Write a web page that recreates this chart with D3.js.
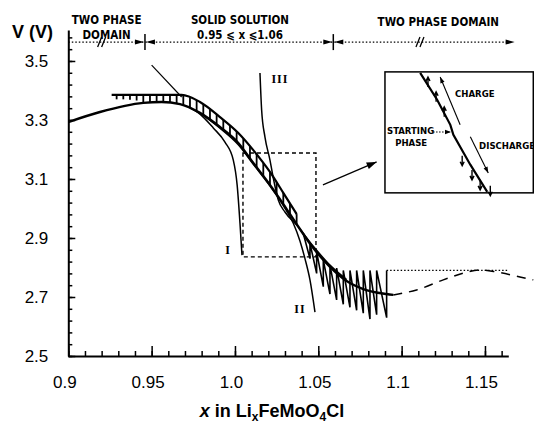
<!DOCTYPE html>
<html>
<head>
<meta charset="utf-8">
<script src="https://cdn.jsdelivr.net/npm/d3@7/dist/d3.min.js"></script>
<style>
  body { margin: 0; background: #fff; }
  text { fill: #000; }
</style>
</head>
<body>
<div id="chart"></div>
<script>
//--------------------------- Data

// equilibrium curve (solid) and its dashed continuation
var mainX = [0.900, 0.919, 0.945, 0.956, 0.967, 0.979, 0.991, 1.002, 1.011, 1.021, 1.029, 1.037, 1.047, 1.057, 1.067, 1.077, 1.091, 1.095];
var mainV = [3.293, 3.327, 3.358, 3.361, 3.354, 3.324, 3.276, 3.222, 3.154, 3.080, 3.015, 2.947, 2.866, 2.802, 2.754, 2.727, 2.710, 2.707];
var dashX = [1.095, 1.109, 1.125, 1.137, 1.147, 1.157, 1.171, 1.179];
var dashV = [2.707, 2.724, 2.758, 2.781, 2.792, 2.785, 2.768, 2.758];

// upper (charge) envelope
var upX = [0.926, 0.968, 0.979, 0.991, 1.002, 1.011, 1.021, 1.029, 1.037];
var upV = [3.385, 3.385, 3.361, 3.310, 3.256, 3.198, 3.124, 3.053, 2.981];

// hatch marks between the envelope and the curve
var hatchX = [0.929, 0.933, 0.937, 0.941, 0.945, 0.949, 0.953, 0.957, 0.961, 0.965, 0.969, 0.973, 0.977, 0.981,
              0.985, 0.989, 0.993, 0.997, 1.001, 1.005, 1.009, 1.013, 1.017, 1.021, 1.025, 1.029, 1.033, 1.037];
var hatchTop = [3.385, 3.385, 3.385, 3.385, 3.385, 3.385, 3.385, 3.385, 3.385, 3.385, 3.383, 3.376, 3.366, 3.353,
                3.336, 3.319, 3.300, 3.281, 3.262, 3.237, 3.211, 3.184, 3.154, 3.124, 3.089, 3.053, 3.017, 2.981];
var hatchBot = [3.370, 3.370, 3.369, 3.366, 3.358, 3.360, 3.361, 3.361, 3.360, 3.357, 3.352, 3.344, 3.331, 3.317,
                3.301, 3.284, 3.267, 3.247, 3.227, 3.201, 3.170, 3.139, 3.110, 3.080, 3.047, 3.015, 2.981, 2.947];

// sawtooth below the curve in the two phase domain
var zigX   = [1.041, 1.045, 1.049, 1.053, 1.057, 1.061, 1.065, 1.069, 1.073, 1.077, 1.081, 1.085, 1.091];
var zigTop = [2.915, 2.882, 2.853, 2.826, 2.808, 2.798, 2.790, 2.790, 2.790, 2.790, 2.790, 2.790, 2.790];
var zigBot = [2.880, 2.830, 2.780, 2.735, 2.710, 2.690, 2.675, 2.665, 2.655, 2.645, 2.625, 2.640, 2.630];

// model curves I, II, III
var curve1X = [0.973, 0.979, 0.987, 0.994, 0.999, 1.0013, 1.003, 1.0042];
var curve1V = [3.341, 3.320, 3.273, 3.225, 3.164, 3.080, 2.951, 2.842];
var curve2X = [0.979, 0.991, 1.002, 1.011, 1.021, 1.029, 1.035, 1.039, 1.042, 1.045, 1.048];
var curve2V = [3.324, 3.272, 3.216, 3.150, 3.076, 3.010, 2.950, 2.890, 2.830, 2.758, 2.649];
var curve3X = [1.015, 1.016, 1.018, 1.021, 1.023, 1.026, 1.030, 1.037, 1.047, 1.057, 1.067];
var curve3V = [3.459, 3.334, 3.242, 3.164, 3.103, 3.029, 2.988, 2.944, 2.872, 2.808, 2.759];

// plateau level, domain limits, zoom box
var plateauV = 2.79;
var phaseLimits = [0.946, 1.059];
var zoomBoxX = [1.0048, 1.0486];
var zoomBoxV = [2.836, 3.188];
var insetX = [1.090, 1.179];
var insetV = [3.053, 3.463];

// inset (in the units of the zoom box)
var insetLineX = [1.0152, 1.0202, 1.0241, 1.0250, 1.0300, 1.0350];
var insetLineV = [3.185, 3.107, 3.034, 3.005, 2.918, 2.839];
var barbUpX = [1.0175, 1.0199, 1.0223];
var barbUpV = [3.150, 3.107, 3.063];
var barbDownX = [1.0276, 1.0305, 1.0329, 1.0359];
var barbDownV = [2.938, 2.897, 2.868, 2.851];

var xTicks = [0.9, 0.95, 1.0, 1.05, 1.1, 1.15];
var xTickLabels = ["0.9", "0.95", "1.0", "1.05", "1.1", "1.15"];
var yTicks = [2.5, 2.7, 2.9, 3.1, 3.3, 3.5];
var yTickLabels = ["2.5", "2.7", "2.9", "3.1", "3.3", "3.5"];

//--------------------------- SVG and scales

var svg = d3.select("#chart")
    .append("svg")
    .attr("width", 534)
    .attr("height", 426);

var x = d3.scaleLinear().domain([0.9, 1.164]).range([68.3, 508.3]);
var y = d3.scaleLinear().domain([2.5, 3.605]).range([356, 30]);

var zip = function (a, b) { return a.map(function (d, i) { return [d, b[i]]; }); };

var smooth = d3.line()
    .x(function (d) { return x(d[0]); })
    .y(function (d) { return y(d[1]); })
    .curve(d3.curveMonotoneX);

var straight = d3.line()
    .x(function (d) { return x(d[0]); })
    .y(function (d) { return y(d[1]); });

var sans = "'Liberation Sans', Arial, sans-serif";
var narrow = "'DejaVu Sans Condensed', 'Liberation Sans Narrow', sans-serif";

//--------------------------- Axes

var minorX = d3.range(0, 27).map(function (i) { return 0.9 + i * 0.01; });
var minorY = d3.range(0, 28).map(function (i) { return 2.5 + i * 0.04; });

svg.append("g")
    .attr("transform", "translate(0,356)")
    .call(d3.axisBottom(x).tickValues(minorX).tickSize(-5).tickSizeOuter(0).tickFormat(""))
    .call(function (g) { g.selectAll("line").attr("stroke-width", 1.5); g.select(".domain").attr("stroke-width", 2); });

svg.append("g")
    .attr("transform", "translate(0,356)")
    .call(d3.axisBottom(x).tickValues(xTicks).tickSize(-10).tickSizeOuter(0).tickPadding(20)
        .tickFormat(function (d, i) { return xTickLabels[i]; }))
    .call(function (g) {
        g.select(".domain").remove();
        g.selectAll("line").attr("stroke-width", 1.5);
        g.selectAll("text").attr("font-family", sans).attr("font-size", 17).attr("dx", -4);
    });

svg.append("g")
    .attr("transform", "translate(68.3,0)")
    .call(d3.axisLeft(y).tickValues(minorY).tickSize(-4).tickSizeOuter(0).tickFormat(""))
    .call(function (g) { g.selectAll("line").attr("stroke-width", 1.5); g.select(".domain").attr("stroke-width", 2); });

svg.append("g")
    .attr("transform", "translate(68.3,0)")
    .call(d3.axisLeft(y).tickValues(yTicks).tickSize(-7).tickSizeOuter(0).tickPadding(20)
        .tickFormat(function (d, i) { return yTickLabels[i]; }))
    .call(function (g) {
        g.select(".domain").remove();
        g.selectAll("line").attr("stroke-width", 1.5);
        g.selectAll("text").attr("font-family", sans).attr("font-size", 17);
    });

svg.append("text")
    .attr("x", 12).attr("y", 38)
    .attr("font-family", sans).attr("font-size", 18).attr("font-weight", "bold")
    .text("V (V)");

var title = svg.append("text")
    .attr("x", 272).attr("y", 417)
    .attr("text-anchor", "middle")
    .attr("font-family", sans).attr("font-size", 18).attr("font-weight", "bold");
title.append("tspan").attr("font-style", "italic").text("x");
title.append("tspan").text(" in Li");
title.append("tspan").attr("font-size", 12).attr("dy", 4).text("x");
title.append("tspan").attr("dy", -4).text("FeMoO");
title.append("tspan").attr("font-size", 12).attr("dy", 4).text("4");
title.append("tspan").attr("dy", -4).text("Cl");

//--------------------------- Domain annotations on top

var topV = 3.564;

svg.append("line")
    .attr("x1", x(0.9)).attr("x2", x(1.166))
    .attr("y1", y(topV)).attr("y2", y(topV))
    .attr("stroke", "#000").attr("stroke-width", 1.2)
    .attr("stroke-dasharray", "1.5,2");

// break marks
[0.920, 1.111].forEach(function (b) {
    [-2, 2].forEach(function (o) {
        svg.append("line")
            .attr("x1", x(b) + o - 2).attr("x2", x(b) + o + 2)
            .attr("y1", y(topV) + 5).attr("y2", y(topV) - 5)
            .attr("stroke", "#000").attr("stroke-width", 1.3);
    });
});

var arrowHead = function (tipX, tipY, dir, len, half) {
    return "M" + tipX + "," + tipY + "L" + (tipX - dir * len) + "," + (tipY - half) +
        "L" + (tipX - dir * len) + "," + (tipY + half) + "Z";
};

phaseLimits.forEach(function (p) {
    var px = x(p), py = y(topV);
    svg.append("line")
        .attr("x1", px).attr("x2", px).attr("y1", py - 8).attr("y2", py + 8)
        .attr("stroke", "#000").attr("stroke-width", 1.5);
    svg.append("path").attr("d", arrowHead(px - 1, py, 1, 9, 2.5)).attr("fill", "#000");
    svg.append("path").attr("d", arrowHead(px + 1, py, -1, 9, 2.5)).attr("fill", "#000");
});
svg.append("path").attr("d", arrowHead(x(1.166) + 3, y(topV), 1, 9, 2.5)).attr("fill", "#000");

var topLabels = [
    { t: "TWO PHASE", x: 0.923, v: 3.56, dy: -19 },
    { t: "DOMAIN", x: 0.923, v: 3.56, dy: -4 },
    { t: "SOLID SOLUTION", x: 1.003, v: 3.56, dy: -19 },
    { t: "0.95 \u2A7D x \u2A7D1.06", x: 1.003, v: 3.56, dy: -4 },
    { t: "TWO PHASE DOMAIN", x: 1.122, v: 3.56, dy: -17 }
];
svg.selectAll("text.top")
    .data(topLabels)
    .enter().append("text")
    .attr("class", "top")
    .attr("x", function (d) { return x(d.x); })
    .attr("y", function (d) { return y(d.v) + d.dy; })
    .attr("text-anchor", "middle")
    .attr("font-family", narrow).attr("font-size", 11.5).attr("font-weight", "bold")
    .text(function (d) { return d.t; });

// pointer from the domain limit to the curve
svg.append("line")
    .attr("x1", x(0.950)).attr("y1", y(3.486))
    .attr("x2", x(0.968)).attr("y2", y(3.378))
    .attr("stroke", "#000").attr("stroke-width", 1.2);

//--------------------------- Curves

svg.append("path")
    .attr("d", smooth(zip(mainX, mainV)))
    .attr("fill", "none").attr("stroke", "#000").attr("stroke-width", 2.4);

svg.append("path")
    .attr("d", smooth(zip(dashX, dashV)))
    .attr("fill", "none").attr("stroke", "#000").attr("stroke-width", 1.5)
    .attr("stroke-dasharray", "9,7");

svg.append("path")
    .attr("d", smooth(zip(upX, upV)))
    .attr("fill", "none").attr("stroke", "#000").attr("stroke-width", 2.2);

svg.selectAll("line.hatch")
    .data(hatchX)
    .enter().append("line")
    .attr("class", "hatch")
    .attr("x1", function (d) { return x(d); })
    .attr("x2", function (d) { return x(d); })
    .attr("y1", function (d, i) { return y(hatchTop[i]); })
    .attr("y2", function (d, i) { return y(hatchBot[i]); })
    .attr("stroke", "#000").attr("stroke-width", 1.8);

var zigPts = [[zigX[0], zigTop[0]]];
for (var k = 1; k < zigX.length; k++) {
    zigPts.push([zigX[k], zigBot[k]]);
    zigPts.push([zigX[k], zigTop[k]]);
}
svg.append("path")
    .attr("d", straight(zigPts))
    .attr("fill", "none").attr("stroke", "#000").attr("stroke-width", 1.6);

svg.append("line")
    .attr("x1", x(zigX[zigX.length - 1])).attr("x2", x(1.164))
    .attr("y1", y(plateauV)).attr("y2", y(plateauV))
    .attr("stroke", "#000").attr("stroke-width", 1.2)
    .attr("stroke-dasharray", "1.5,2");

[[curve1X, curve1V], [curve2X, curve2V], [curve3X, curve3V]].forEach(function (c) {
    svg.append("path")
        .attr("d", smooth(zip(c[0], c[1])))
        .attr("fill", "none").attr("stroke", "#000").attr("stroke-width", 1.5);
});

var romans = [
    { t: "I", x: 0.9958, v: 2.845 },
    { t: "II", x: 1.039, v: 2.645 },
    { t: "III", x: 1.027, v: 3.425 }
];
svg.selectAll("text.roman")
    .data(romans)
    .enter().append("text")
    .attr("class", "roman")
    .attr("x", function (d) { return x(d.x); })
    .attr("y", function (d) { return y(d.v); })
    .attr("text-anchor", "middle")
    .attr("font-family", "'Liberation Serif', serif").attr("font-size", 12).attr("font-weight", "bold")
    .attr("letter-spacing", 1)
    .text(function (d) { return d.t; });

//--------------------------- Zoom box, arrow and inset

svg.append("rect")
    .attr("x", x(zoomBoxX[0])).attr("y", y(zoomBoxV[1]))
    .attr("width", x(zoomBoxX[1]) - x(zoomBoxX[0]))
    .attr("height", y(zoomBoxV[0]) - y(zoomBoxV[1]))
    .attr("fill", "none").attr("stroke", "#000").attr("stroke-width", 1.4)
    .attr("stroke-dasharray", "4,3");

var ax1 = x(1.0528), ay1 = y(3.080), ax2 = x(1.085), ay2 = y(3.158);
var ang = Math.atan2(ay2 - ay1, ax2 - ax1) * 180 / Math.PI;
svg.append("line")
    .attr("x1", ax1).attr("y1", ay1).attr("x2", ax2).attr("y2", ay2)
    .attr("stroke", "#000").attr("stroke-width", 1.3);
svg.append("path")
    .attr("d", "M0,0L-10,-3.5L-10,3.5Z")
    .attr("transform", "translate(" + ax2 + "," + ay2 + ")rotate(" + ang + ")")
    .attr("fill", "#000");

svg.append("rect")
    .attr("x", x(insetX[0])).attr("y", y(insetV[1]))
    .attr("width", x(insetX[1]) - x(insetX[0]))
    .attr("height", y(insetV[0]) - y(insetV[1]))
    .attr("fill", "#fff").attr("stroke", "#000").attr("stroke-width", 1.5);

var ix = d3.scaleLinear().domain(zoomBoxX).range([x(insetX[0]), x(insetX[1])]);
var iy = d3.scaleLinear().domain(zoomBoxV).range([y(insetV[0]), y(insetV[1])]);
var insetLine = d3.line()
    .x(function (d) { return ix(d[0]); })
    .y(function (d) { return iy(d[1]); });

svg.append("path")
    .attr("d", insetLine(zip(insetLineX, insetLineV)))
    .attr("fill", "none").attr("stroke", "#000").attr("stroke-width", 2.2);

svg.selectAll("path.barbUp")
    .data(barbUpX)
    .enter().append("path")
    .attr("class", "barbUp")
    .attr("d", function (d, i) {
        var bx = ix(d), by = iy(barbUpV[i]);
        return "M" + bx + "," + (by + 2) + "L" + bx + "," + (by - 8) + "M" + (bx - 2) + "," + (by - 4) + "L" + bx + "," + (by - 8) + "L" + (bx + 2) + "," + (by - 4);
    })
    .attr("fill", "none").attr("stroke", "#000").attr("stroke-width", 1.4);

svg.selectAll("path.barbDown")
    .data(barbDownX)
    .enter().append("path")
    .attr("class", "barbDown")
    .attr("d", function (d, i) {
        var bx = ix(d), by = iy(barbDownV[i]);
        return "M" + bx + "," + (by - 2) + "L" + bx + "," + (by + 8) + "M" + (bx - 2) + "," + (by + 4) + "L" + bx + "," + (by + 8) + "L" + (bx + 2) + "," + (by + 4);
    })
    .attr("fill", "none").attr("stroke", "#000").attr("stroke-width", 1.4);

var insetArrows = [
    { x1: 1.0270, v1: 3.034, x2: 1.0211, v2: 3.173, dash: null },
    { x1: 1.0300, v1: 2.999, x2: 1.0353, v2: 2.894, dash: null },
    { x1: 1.0190, v1: 3.013, x2: 1.0243, v2: 3.013, dash: "1.5,1.5" }
];
insetArrows.forEach(function (a) {
    var sx = ix(a.x1), sy = iy(a.v1), ex = ix(a.x2), ey = iy(a.v2);
    var r = Math.atan2(ey - sy, ex - sx) * 180 / Math.PI;
    svg.append("line")
        .attr("x1", sx).attr("y1", sy).attr("x2", ex).attr("y2", ey)
        .attr("stroke", "#000").attr("stroke-width", 1.1)
        .attr("stroke-dasharray", a.dash);
    svg.append("path")
        .attr("d", "M0,0L-6,-2.2L-6,2.2Z")
        .attr("transform", "translate(" + ex + "," + ey + ")rotate(" + r + ")")
        .attr("fill", "#000");
});

var insetLabels = [
    { t: "CHARGE", x: 1.0255, v: 3.115 },
    { t: "STARTING", x: 1.0054, v: 3.008 },
    { t: "PHASE", x: 1.0078, v: 2.973 },
    { t: "DISCHARGE", x: 1.0326, v: 2.964 }
];
svg.selectAll("text.inset")
    .data(insetLabels)
    .enter().append("text")
    .attr("class", "inset")
    .attr("x", function (d) { return ix(d.x); })
    .attr("y", function (d) { return iy(d.v); })
    .attr("font-family", narrow).attr("font-size", 9.5).attr("font-weight", "bold")
    .text(function (d) { return d.t; });
</script>
</body>
</html>
